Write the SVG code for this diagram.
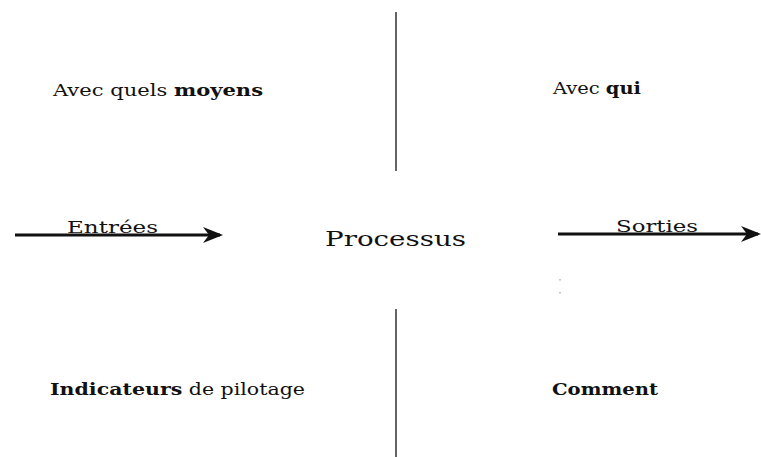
<svg xmlns="http://www.w3.org/2000/svg" width="761" height="457" viewBox="0 0 761 457">
<defs>
<style>
text{font-family:"DejaVu Serif","Liberation Serif",serif;fill:#111;}
.t{font-size:16px;}
.b{font-weight:bold;}
.big{font-size:20px;}
.lbl{font-size:17px;}
.ln{stroke:#111;stroke-width:1.3;fill:none;}
.ar{stroke:#111;stroke-width:3;fill:none;}
.dot{fill:#888;}
</style>
<marker id="ah" markerWidth="20" markerHeight="16" refX="17" refY="8" orient="auto" markerUnits="userSpaceOnUse">
<path d="M0,0 L20,8 L0,16 L6,8 Z" fill="#111"/>
</marker>
</defs>
<rect width="761" height="457" fill="#fff"/>
<g id="connectors">
<line class="ln" x1="396" y1="12" x2="396" y2="171"/>
<line class="ln" x1="396" y1="309" x2="396" y2="457"/>
<line class="ar" x1="15" y1="235" x2="220" y2="235" marker-end="url(#ah)"/>
<line class="ar" x1="558" y1="234" x2="758" y2="234" marker-end="url(#ah)"/>
<rect class="dot" x="559.5" y="279" width="1" height="1.5"/>
<rect class="dot" x="559.5" y="292" width="1" height="1.5"/>
</g>
<g id="moyens"><text class="t" x="53" y="96" textLength="210" lengthAdjust="spacingAndGlyphs">Avec quels <tspan class="b">moyens</tspan></text></g>
<g id="qui"><text class="t" x="553" y="94" textLength="88" lengthAdjust="spacingAndGlyphs">Avec <tspan class="b">qui</tspan></text></g>
<g id="entrees"><text class="lbl" x="67" y="233" textLength="91" lengthAdjust="spacingAndGlyphs">Entrées</text></g>
<g id="processus"><text class="big" x="325" y="246" textLength="141" lengthAdjust="spacingAndGlyphs">Processus</text></g>
<g id="sorties"><text class="lbl" x="616" y="232" textLength="82" lengthAdjust="spacingAndGlyphs">Sorties</text></g>
<g id="indicateurs"><text class="t" x="50" y="395" textLength="255" lengthAdjust="spacingAndGlyphs"><tspan class="b">Indicateurs</tspan> de pilotage</text></g>
<g id="comment"><text class="t b" x="552" y="395" textLength="106" lengthAdjust="spacingAndGlyphs">Comment</text></g>
</svg>
